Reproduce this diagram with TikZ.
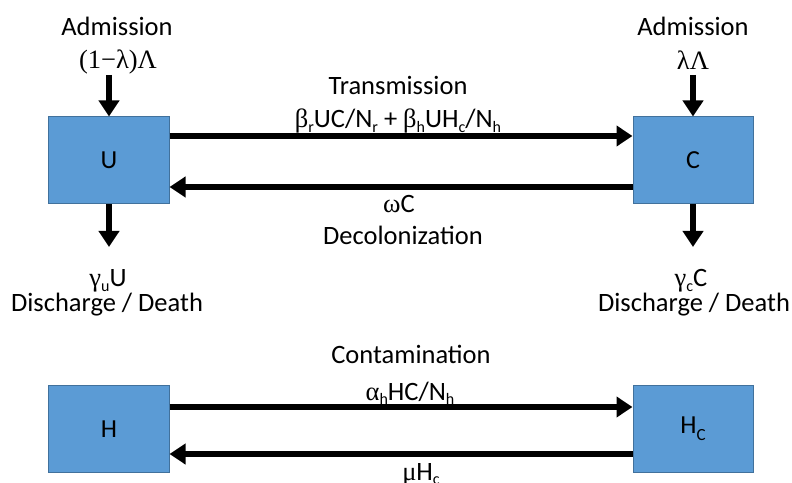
\documentclass[tikz,border=0pt]{standalone}
\usepackage{fontspec}
\setmainfont{Carlito}
\newfontfamily\greekfont{Liberation Serif}
\usetikzlibrary{positioning,arrows.meta}

\definecolor{boxfill}{RGB}{91,155,213}
\definecolor{boxedge}{RGB}{65,113,156}
\newcommand{\gk}[1]{{\greekfont #1}}
\newcommand{\sbs}[1]{\raisebox{-0.16em}{\fontsize{16bp}{16bp}\selectfont #1}}

\tikzset{
  compartment/.style={draw=boxedge, fill=boxfill, line width=1bp,
    minimum width=120bp, minimum height=87bp, inner sep=0pt,
    font=\fontsize{26bp}{30bp}\selectfont},
  flow/.style={line width=6bp, -{Triangle[length=16bp,width=20bp]}},
  lbl/.style={anchor=base, inner sep=0pt, font=\fontsize{26.5bp}{30bp}\selectfont},
}

\begin{document}
\begin{tikzpicture}[x=1bp, y=-1bp]
        \clip (0,0) rectangle (792,483);
        \fill[white] (0,0) rectangle (792,483);
          % Node: U, C, H, Hc
          \node[compartment] (U) at (109,160.5) {U};
          \node[compartment] (C) at (693,160.5) {C};
          \node[compartment] (H) at (109,429) {H};
          \node[compartment] (Hc) at (693,429) {H\raisebox{-7bp}{\fontsize{17bp}{17bp}\selectfont C}};
          % Edge: admission -> U
          \coordinate (inU) at (109,75);
          \draw[flow] (inU) -- (U.north);
          \node[lbl] (admU) at (117,36) {Admission};
          \node[lbl] (rateinU) at (118,69) {\gk{(1−λ)Λ}};
          % Edge: admission -> C
          \coordinate (inC) at (693,75);
          \draw[flow] (inC) -- (C.north);
          \node[lbl] (admC) at (693,36) {Admission};
          \node[lbl] (rateinC) at (693,70) {\gk{λΛ}};
          % Edge: U -> discharge
          \coordinate (outU) at (109,247);
          \draw[flow] (U.south) -- (outU);
          \node[lbl] (rateoutU) at (108,287) {\gk{γ}\sbs{u}U};
          \node[lbl] (dischU) at (107,312) {Discharge / Death};
          % Edge: C -> discharge
          \coordinate (outC) at (693,247);
          \draw[flow] (C.south) -- (outC);
          \node[lbl] (rateoutC) at (691,287) {\gk{γ}\sbs{c}C};
          \node[lbl] (dischC) at (694,312) {Discharge / Death};
          % Edge: U -> C
          \draw[flow] ([yshift=24.5bp]U.east) -- ([yshift=24.5bp]C.west);
          \node[lbl] (trans) at (398,95) {Transmission};
          \node[lbl] (transrate) at (398,128) {\gk{β}\sbs{r}UC/N\sbs{r} + \gk{β}\sbs{h}UH\sbs{c}/N\sbs{h}};
          % Edge: C -> U
          \draw[flow] ([yshift=-26.5bp]C.west) -- ([yshift=-26.5bp]U.east);
          \node[lbl] (decolrate) at (399,213) {\gk{ω}C};
          \node[lbl] (decol) at (403,245) {Decolonization};
          % Edge: H -> Hc
          \draw[flow] ([yshift=22bp]H.east) -- ([yshift=22bp]Hc.west);
          \node[lbl] (contam) at (411,363) {Contamination};
          \node[lbl] (contamrate) at (410,400) {\gk{α}\sbs{h}HC/N\sbs{h}};
          % Edge: Hc -> H
          \draw[flow] ([yshift=-25bp]Hc.west) -- ([yshift=-25bp]H.east);
          \node[lbl] (cleanrate) at (421,480) {\gk{μ}H\sbs{c}};
        %
\end{tikzpicture}
\end{document}
